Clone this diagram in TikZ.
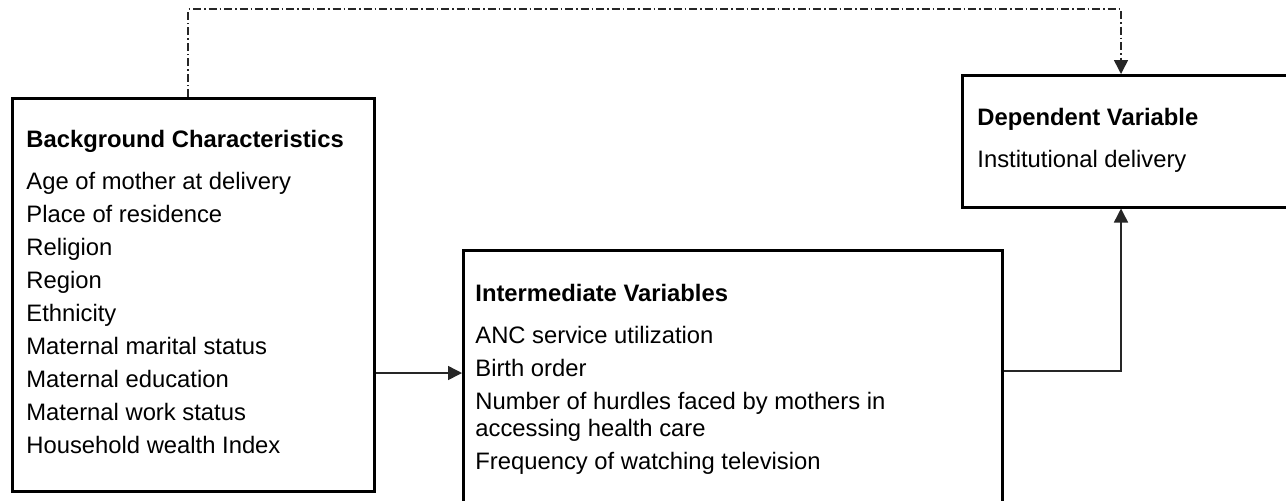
\documentclass[tikz,border=0pt]{standalone}
\usepackage{fontspec}
\setmainfont{Liberation Sans}
\usetikzlibrary{arrows.meta}
\begin{document}
\begin{tikzpicture}[x=0.5pt,y=-0.5pt,
  box/.style={draw=black, line width=1.25pt, inner sep=0pt, anchor=north west},
  txt/.style={anchor=base west, inner sep=0pt, align=left, font=\fontsize{11.9}{13.5}\selectfont},
  conn/.style={draw=black!85, line width=0.75pt, -{Triangle[length=7pt,width=7pt]}},
  dd/.style={conn, dash pattern=on 4pt off 1.5pt on 0.75pt off 1.5pt}]
\clip (0,0) rectangle (1286,500);
\fill[white] (0,0) rectangle (1286,500);
% boxes
\node[box, minimum width=181pt, minimum height=196.5pt] (bg) at (11,97) {};
\node[box, minimum width=269.5pt, minimum height=128pt] (im) at (462,249) {};
\node[box, minimum width=165.5pt, minimum height=66pt] (dp) at (961,74) {};
% texts (anchored at the baseline of their last line)
\node[txt] (bgtxt) at (26,453) {\textbf{Background Characteristics}\\[7.5pt]
  Age of mother at delivery\\[3pt]
  Place of residence\\[3pt]
  Religion\\[3pt]
  Region\\[3pt]
  Ethnicity\\[3pt]
  Maternal marital status\\[3pt]
  Maternal education\\[3pt]
  Maternal work status\\[3pt]
  Household wealth Index};
\node[txt] (imtxt) at (475,469) {\textbf{Intermediate Variables}\\[7.5pt]
  ANC service utilization\\[3pt]
  Birth order\\[3pt]
  Number of hurdles faced by mothers in\\
  accessing health care\\[3pt]
  Frequency of watching television};
\node[txt] (dptxt) at (977,167) {\textbf{Dependent Variable}\\[7.5pt]
  Institutional delivery};
% connectors
\coordinate (mid) at (0,373);
\coordinate (bend) at (1121,371);
\coordinate (tl) at (188,9);
\coordinate (tr) at (1121,9);
\draw[conn] (bg.east |- mid) -- (im.west |- mid);
\draw[conn] (im.east |- bend) -| (dp.south -| bend);
\draw[dd] (bg.north -| tl) -- (tl) -- (tr) -- (dp.north -| tr);
\end{tikzpicture}
\end{document}
